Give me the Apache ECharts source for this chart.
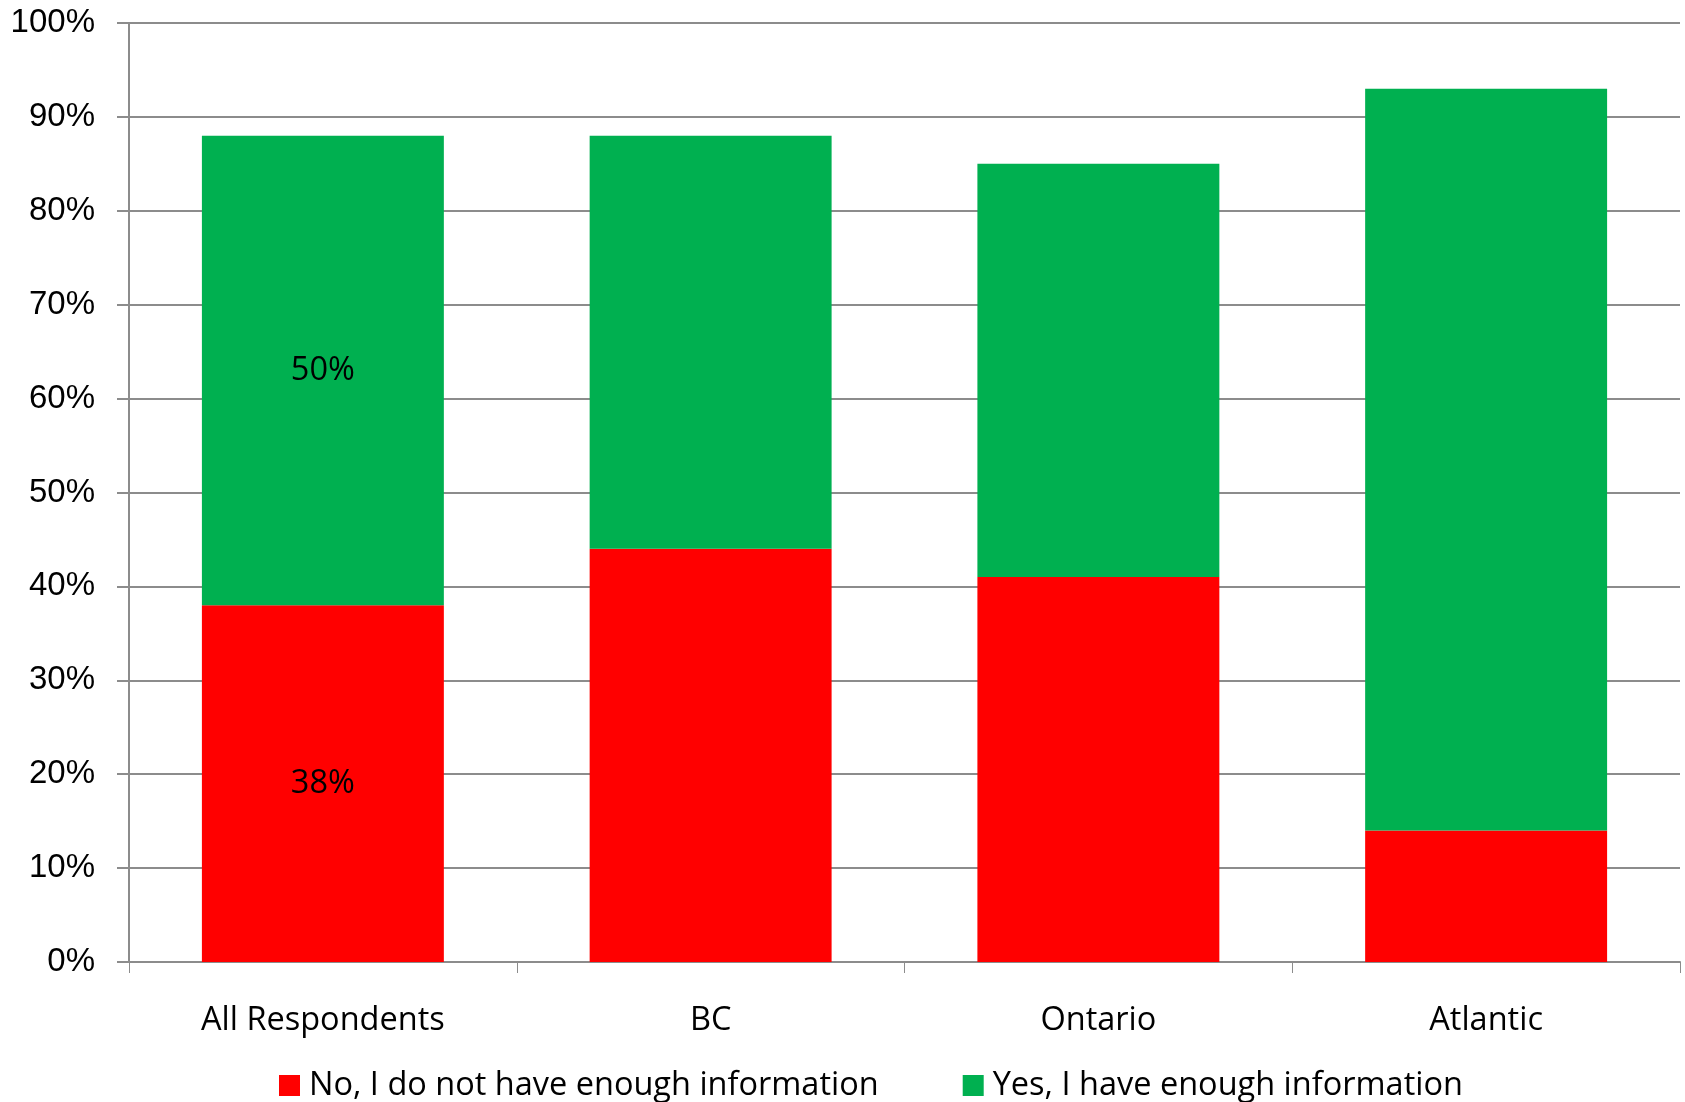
<!DOCTYPE html>
<html>
<head>
<meta charset="utf-8">
<script src="https://cdn.jsdelivr.net/npm/echarts@6/dist/echarts.min.js"></script>
<style>
  html, body { margin: 0; padding: 0; background: #fff; }
  #chart { width: 1685px; height: 1102px; }
</style>
</head>
<body>
<div id="chart"></div>
<script>
// Chart data
const categories = ["All Respondents", "BC", "Ontario", "Atlantic"];
const noInfo = [38, 44, 41, 14];
const yesInfo = [50, 44, 44, 79];
const seriesNames = ["No, I do not have enough information", "Yes, I have enough information"];
// only the first bar carries value labels
const labelledIndex = 0;

const chart = echarts.init(document.getElementById("chart"));

function segLabel(params) {
  return params.dataIndex === labelledIndex ? params.value + "%" : "";
}

const option = {
  animation: false,
  textStyle: { fontFamily: "Open Sans" },
  grid: {
    left: 129,
    right: 5,
    top: 23,
    bottom: 140,
  },
  legend: {
    left: 279,
    top: 1069,
    padding: 0,
    icon: "rect",
    itemWidth: 21,
    itemHeight: 21,
    itemGap: 84,
    textStyle: {
      fontFamily: "Open Sans",
      fontSize: 32.5,
      color: "#000",
      padding: [0, 0, 0, 4],
    },
    data: seriesNames,
  },
  xAxis: {
    type: "category",
    data: categories,
    axisLine: { lineStyle: { color: "#8c8c8c", width: 2 } },
    axisTick: { show: true, length: 11, lineStyle: { color: "#8c8c8c", width: 1 } },
    axisLabel: {
      margin: 42,
      fontSize: 32.5,
      color: "#000",
      fontFamily: "Open Sans",
    },
  },
  yAxis: {
    type: "value",
    min: 0,
    max: 100,
    interval: 10,
    axisLine: { show: true, lineStyle: { color: "#8c8c8c", width: 2 } },
    axisTick: { show: true, length: 12, lineStyle: { color: "#8c8c8c", width: 2 } },
    axisLabel: {
      margin: 34,
      fontSize: 33,
      color: "#000",
      fontFamily: "Liberation Sans",
      formatter: "{value}%",
    },
    splitLine: { lineStyle: { color: "#8c8c8c", width: 2 } },
  },
  series: [
    {
      name: seriesNames[0],
      type: "bar",
      stack: "total",
      barWidth: "62.4%",
      itemStyle: { color: "#ff0000" },
      label: {
        show: true,
        position: "inside",
        formatter: segLabel,
        fontSize: 32.5,
        color: "#000",
        fontFamily: "Open Sans",
        padding: [6, 0, 0, 0],
      },
      data: noInfo,
    },
    {
      name: seriesNames[1],
      type: "bar",
      stack: "total",
      barWidth: "62.4%",
      itemStyle: { color: "#00b050" },
      label: {
        show: true,
        position: "inside",
        formatter: segLabel,
        fontSize: 32.5,
        color: "#000",
        fontFamily: "Open Sans",
        padding: [6, 0, 0, 0],
      },
      data: yesInfo,
    },
  ],
};
chart.setOption(option);
</script>
</body>
</html>
